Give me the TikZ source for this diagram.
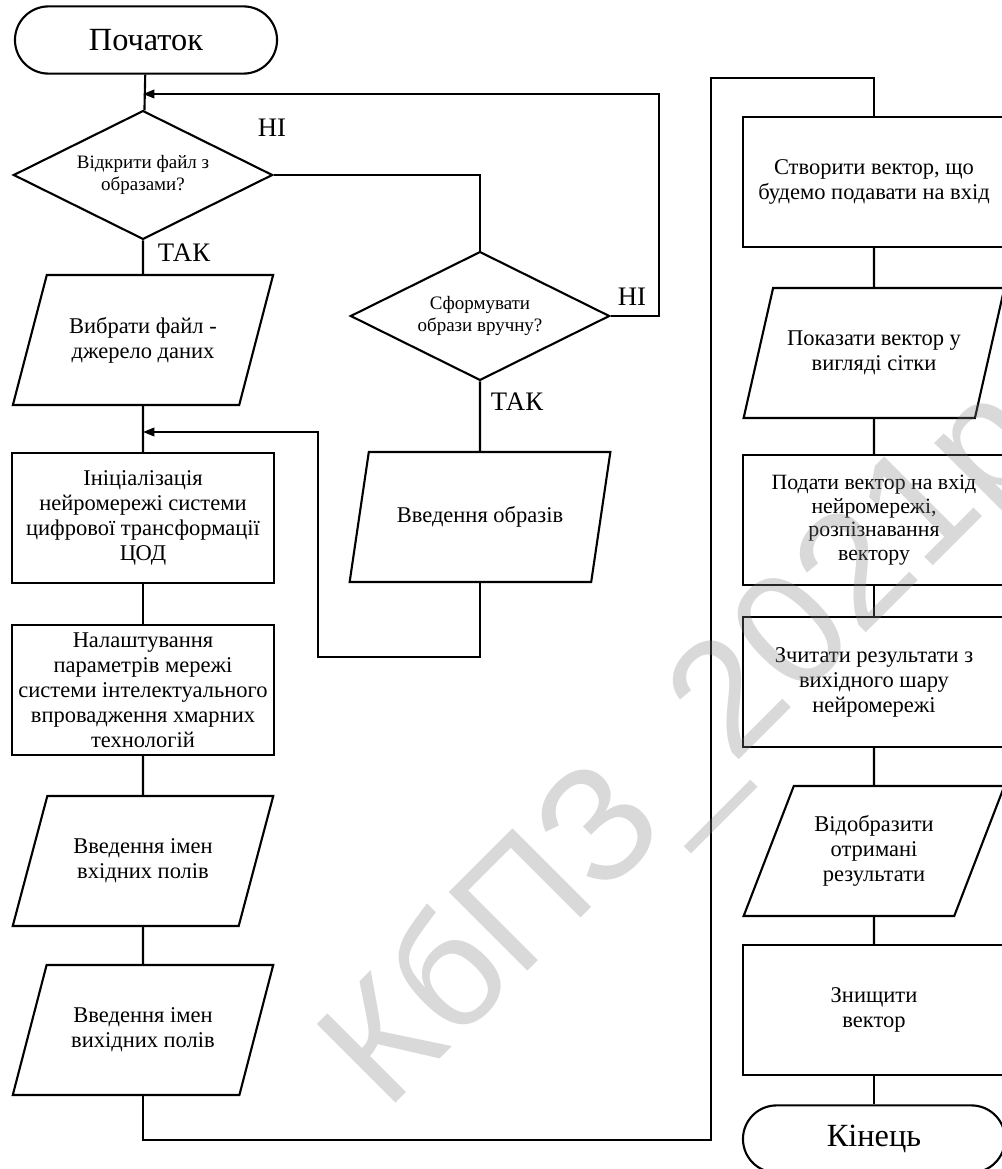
\documentclass[tikz,border=0pt]{standalone}
\usepackage{fontspec}
\setmainfont{Liberation Serif}
\newfontfamily\markfont{Liberation Sans}
\usetikzlibrary{arrows.meta, positioning, shapes.geometric}

\begin{document}
\begin{tikzpicture}[
    x=0.025cm, y=-0.025cm,
    terminal/.style={draw, line width=1.5pt, rounded corners=0.84cm, minimum width=6.55cm, minimum height=1.68cm, font=\fontsize{23}{26}\selectfont},
    decision/.style={draw, line width=1.5pt, diamond, aspect=2, inner sep=0pt, minimum width=6.48cm, minimum height=3.22cm, align=center, font=\fontsize{13.5}{15.4}\selectfont},
    process/.style={draw, line width=1.5pt, minimum width=6.55cm, minimum height=3.25cm, align=center, font=\fontsize{16}{17.8}\selectfont},
    io/.style={draw, line width=1.5pt, trapezium, trapezium left angle=63.4, trapezium right angle=116.6, trapezium stretches=true, minimum width=6.52cm, minimum height=3.25cm, align=center, font=\fontsize{16}{17.8}\selectfont},
    answer/.style={font=\fontsize{19}{21}\selectfont},
    line/.style={line width=1.5pt},
    arrow/.style={line width=1.5pt, -{Triangle[length=8pt, width=6pt]}}
]
    \useasboundingbox (0,0) rectangle (1001,1169);

    % Left column
    \node[terminal] (start) at (146,40) {Початок};
    \node[decision] (askfile) at (143,175) {Відкрити файл з\\образами?};
    \node[io] (pickfile) at (143,340) {Вибрати файл -\\джерело даних};
    \node[process] (init) at (143,518) {Ініціалізація\\нейромережі системи\\цифрової трансформації\\ЦОД};
    \node[process] (tune) at (143,690) {Налаштування\\параметрів мережі\\системи інтелектуального\\впровадження хмарних\\технологій};
    \node[io] (innames) at (143,861) {Введення імен\\вхідних полів};
    \node[io] (outnames) at (143,1030) {Введення імен\\вихідних полів};

    % Middle branch
    \node[decision] (askmanual) at (480,316) {Сформувати\\образи вручну?};
    \node[io] (manual) at (480,517) {Введення образів};

    % Right column
    \node[process] (makevec) at (874,182) {Створити вектор, що\\будемо подавати на вхід};
    \node[io] (showvec) at (874,353) {Показати вектор у\\вигляді сітки};
    \node[process, font=\fontsize{15.5}{16.8}\selectfont] (feedvec) at (874,520) {Подати вектор на вхід\\нейромережі,\\розпізнавання\\вектору};
    \node[process] (readout) at (874,682) {Зчитати результати з\\вихідного шару\\нейромережі};
    \node[io] (showres) at (874,851) {Відобразити\\отримані\\результати};
    \node[process] (killvec) at (874,1010) {Знищити\\вектор};
    \node[terminal] (finish) at (874,1139) {Кінець};

    % Answers
    \node[answer] (no1) at (272,128) {НІ};
    \node[answer] (yes1) at (184,253) {ТАК};
    \node[answer] (no2) at (632,297) {НІ};
    \node[answer] (yes2) at (517,402) {ТАК};

    % Junctions
    \coordinate (join1) at (143,94);
    \coordinate (back1) at (659,94);
    \coordinate (join2) at (143,432);
    \coordinate (back2) at (318,657);
    \coordinate (low) at (711,1140);
    \coordinate (high) at (711,78);

    \draw[line] (start) -- (askfile);
    \draw[line] (askfile) -- (pickfile);
    \draw[line] (askfile.east) -| (askmanual.north);
    \draw[arrow] (askmanual.east) -| (back1) -- (join1);
    \draw[line] (askmanual) -- (manual);
    \draw[arrow] (manual.south) |- (back2) |- (join2);
    \draw[line] (pickfile) -- (init);
    \draw[line] (init) -- (tune);
    \draw[line] (tune) -- (innames);
    \draw[line] (innames) -- (outnames);
    \draw[line] (outnames.south) |- (low) -- (high) -| (makevec.north);
    \draw[line] (makevec) -- (showvec);
    \draw[line] (showvec) -- (feedvec);
    \draw[line] (feedvec) -- (readout);
    \draw[line] (readout) -- (showres);
    \draw[line] (showres) -- (killvec);
    \draw[line] (killvec) -- (finish);

    % Watermark
    \node[rotate=45, text=gray, opacity=0.3, font=\markfont\fontsize{115}{118}\selectfont] (mark) at (689,750) {КбПЗ\_2021р};
\end{tikzpicture}
\end{document}
